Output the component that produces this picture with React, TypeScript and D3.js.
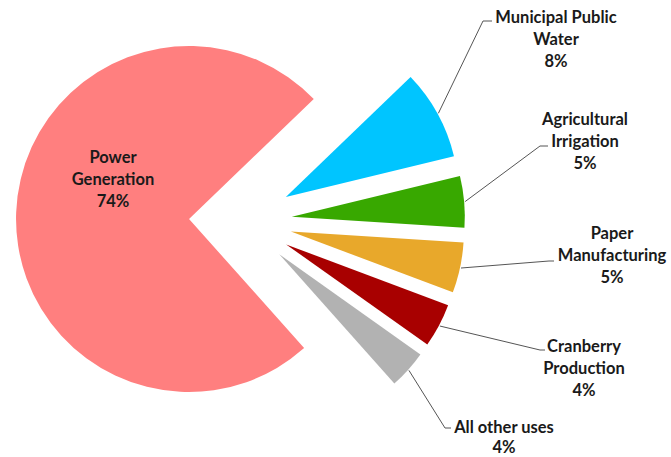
import React from "react";
import * as d3 from "d3";

// ---- data ----
const categories = [
  "Power Generation",
  "Municipal Public Water",
  "Agricultural Irrigation",
  "Paper Manufacturing",
  "Cranberry Production",
  "All other uses",
];
const values = [74.4, 8.4, 4.8, 4.7, 4.1, 3.6];
const pctLabels = ["74%", "8%", "5%", "5%", "4%", "4%"];
const labelLines = [
  ["Power", "Generation"],
  ["Municipal Public", "Water"],
  ["Agricultural", "Irrigation"],
  ["Paper", "Manufacturing"],
  ["Cranberry", "Production"],
  ["All other uses"],
];
const colors = ["#FF7F7F", "#00C5FF", "#38A800", "#E8A82B", "#A80000", "#B2B2B2"];

// ---- layout ----
const W = 671;
const H = 457;
const CX = 242;
const CY = 221;
const R = 173;
const explode = [53, 50, 50, 50, 50, 50];
const START = (138.3 * Math.PI) / 180;
const LINE_H = 22;
const FONT = 16.5;
// label placement: center x, first line y, line height, leader elbow and end
const labelPos = [
  { x: 113, y: 157, lh: LINE_H, leader: null },
  { x: 556, y: 17, lh: LINE_H, leader: [[483, 21], [492, 21]] },
  { x: 585, y: 119, lh: LINE_H, leader: [[540, 146], [548, 146]] },
  { x: 612, y: 233, lh: LINE_H, leader: [[549, 261], [554, 261]] },
  { x: 584, y: 346, lh: LINE_H, leader: [[540, 350], [545, 350]] },
  { x: 504, y: 427, lh: 20, leader: [[445, 428], [451, 428]] },
];

export default function App() {
  const pie = d3
    .pie<number>()
    .sort(null)
    .startAngle(START)
    .endAngle(START + 2 * Math.PI);
  const arcs = pie(values);
  const arcGen = d3.arc<d3.PieArcDatum<number>>().innerRadius(0).outerRadius(R);

  return (
    <svg
      width={W}
      height={H}
      style={{ position: "absolute", left: 0, top: 0, background: "#fff" }}
      fontFamily="Lato, 'Open Sans', sans-serif"
      fontWeight="bold"
    >
      {arcs.map((a, i) => {
        const mid = (a.startAngle + a.endAngle) / 2;
        const dx = Math.sin(mid) * explode[i];
        const dy = -Math.cos(mid) * explode[i];
        return (
          <path
            key={categories[i]}
            d={arcGen(a) || ""}
            transform={`translate(${CX + dx},${CY + dy})`}
            fill={colors[i]}
          />
        );
      })}
      {arcs.map((a, i) => {
        const lp = labelPos[i];
        if (!lp.leader) return null;
        const mid = (a.startAngle + a.endAngle) / 2;
        const rr = R + explode[i] + 1;
        const sx = CX + Math.sin(mid) * rr;
        const sy = CY - Math.cos(mid) * rr;
        const pts: [number, number][] = [[sx, sy], ...(lp.leader as [number, number][])];
        return (
          <path
            key={"l" + i}
            d={d3.line()(pts) || ""}
            fill="none"
            stroke="#555"
            strokeWidth={1}
          />
        );
      })}
      {labelLines.map((lines, i) => {
        const lp = labelPos[i];
        const all = [...lines, pctLabels[i]];
        return (
          <text
            key={"t" + i}
            textAnchor="middle"
            fontSize={FONT}
            fill="#1a1a1a"
          >
            {all.map((t, j) => (
              <tspan key={j} x={lp.x} y={lp.y + j * lp.lh} dominantBaseline="central">
                {t}
              </tspan>
            ))}
          </text>
        );
      })}
    </svg>
  );
}
